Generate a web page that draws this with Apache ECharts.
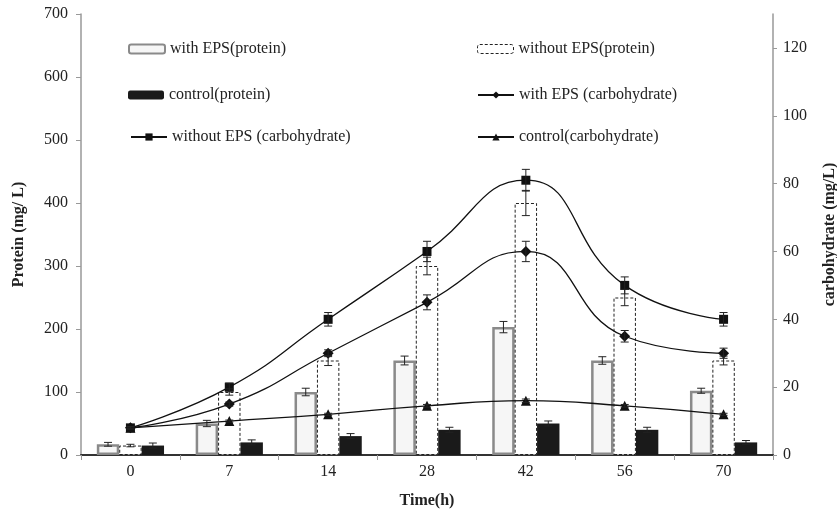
<!DOCTYPE html>
<html>
<head>
<meta charset="utf-8">
<script src="https://cdn.jsdelivr.net/npm/echarts@6/dist/echarts.min.js"></script>
<style>html,body{margin:0;padding:0;background:#fff}#c{width:837px;height:517px}</style>
</head>
<body>
<div id="c"></div>
<script>
const categories = ['0', '7', '14', '28', '42', '56', '70'];
const withEpsProtein = [17, 50, 100, 150, 203, 150, 102];
const withoutEpsProtein = [15, 100, 150, 300, 400, 250, 150];
const controlProtein = [15, 20, 30, 40, 50, 40, 20];
const withEpsProteinErr = [3, 5, 6, 7, 9, 6, 4];
const withoutEpsProteinErr = [2, 5, 8, 14, 20, 13, 7];
const controlProteinErr = [4, 4, 4, 4, 4, 4, 3];
const withEpsCarb = [8, 15, 30, 45, 60, 35, 30];
const withoutEpsCarb = [8, 20, 40, 60, 81, 50, 40];
const controlCarb = [8, 10, 12, 14.5, 16, 14.5, 12];
const withEpsCarbErr = [0.3, 0.6, 1, 2.2, 3, 1.7, 1.5];
const withoutEpsCarbErr = [0.4, 1.2, 2, 3, 3.2, 2.5, 2];
const controlCarbErr = [0.3, 0.3, 0.3, 0.4, 0.5, 0.4, 0.3];
const proteinTicks = [0, 100, 200, 300, 400, 500, 600, 700];
const carbTicks = [0, 20, 40, 60, 80, 100, 120];

const FONT = 'Liberation Serif';
const CAT_GAP = 0.32;

function errSeries(name, vals, errs, slot, yIdx, capHalf) {
  return {
    type: 'custom', name: name + '_err', yAxisIndex: yIdx, z: 10, silent: true,
    encode: { x: 0, y: 1 },
    data: vals.map((v, i) => [i, v, errs[i]]),
    renderItem: function (params, api) {
      const i = api.value(0), v = api.value(1), e = api.value(2);
      const band = api.size([1, 0])[0];
      const bw = band * (1 - CAT_GAP) / 3;
      const c = api.coord([i, v]);
      const x = c[0] + slot * bw;
      const yt = api.coord([i, v + e])[1];
      const yb = api.coord([i, v - e])[1];
      const st = { stroke: '#222', lineWidth: 1 };
      return { type: 'group', children: [
        { type: 'line', shape: { x1: x, y1: yt, x2: x, y2: yb }, style: st },
        { type: 'line', shape: { x1: x - capHalf, y1: yt, x2: x + capHalf, y2: yt }, style: st },
        { type: 'line', shape: { x1: x - capHalf, y1: yb, x2: x + capHalf, y2: yb }, style: st }
      ] };
    }
  };
}

const legendPos = [
  ['with EPS(protein)', 128, 41, { borderColor: '#8a8a8a', borderWidth: 2 }],
  ['without EPS(protein)', 477, 41, { borderColor: '#222', borderWidth: 1, borderType: [3, 2] }],
  ['control(protein)', 128, 87, {}],
  ['with EPS (carbohydrate)', 477, 87, {}],
  ['without EPS (carbohydrate)', 130, 129, {}],
  ['control(carbohydrate)', 477, 129, {}]
];

const chart = echarts.init(document.getElementById('c'));
chart.setOption({
  animation: false,
  backgroundColor: '#fff',
  textStyle: { fontFamily: FONT },
  legend: legendPos.map(p => ({
    data: [p[0]], left: p[1], top: p[2], padding: 0,
    itemWidth: 36, itemHeight: 9,
    itemStyle: p[3],
    textStyle: { fontFamily: FONT, fontSize: 16, color: '#222' }
  })),
  grid: { left: 81, right: 64, top: 14, bottom: 62, outerBoundsMode: 'none', containLabel: false },
  xAxis: [{
    type: 'category', data: categories, position: 'bottom',
    name: 'Time(h)', nameLocation: 'middle', nameGap: 38,
    nameTextStyle: { fontFamily: FONT, fontWeight: 'bold', fontSize: 16, color: '#222' },
    axisLine: { lineStyle: { color: '#999', width: 1.5 } },
    axisTick: { show: true, length: 5, lineStyle: { color: '#999' } },
    axisLabel: { margin: 9, fontFamily: FONT, fontSize: 16, color: '#222' }
  }, {
    type: 'category', data: categories, position: 'top',
    axisLine: { lineStyle: { color: '#333', width: 2 } },
    axisTick: { show: false }, axisLabel: { show: false }
  }],
  yAxis: [{
    type: 'value', min: 0, max: 700, interval: 100, position: 'left',
    name: 'Protein (mg/ L)', nameLocation: 'middle', nameGap: 54, nameRotate: 90,
    nameTextStyle: { fontFamily: FONT, fontWeight: 'bold', fontSize: 16, color: '#222' },
    splitLine: { show: false },
    axisLine: { show: true, lineStyle: { color: '#999', width: 1.5 } },
    axisTick: { show: true, length: 5, lineStyle: { color: '#999' } },
    axisLabel: { margin: 13, fontFamily: FONT, fontSize: 16, color: '#222', customValues: proteinTicks }
  }, {
    type: 'value', min: 0, max: 130, interval: 20, position: 'right',
    name: 'carbohydrate (mg/L)', nameLocation: 'middle', nameGap: 49, nameRotate: 90,
    nameTextStyle: { fontFamily: FONT, fontWeight: 'bold', fontSize: 16, color: '#222' },
    splitLine: { show: false },
    axisLine: { show: true, lineStyle: { color: '#999', width: 1.5 } },
    axisTick: { show: true, length: 4, lineStyle: { color: '#999' }, customValues: carbTicks },
    axisLabel: { margin: 10, fontFamily: FONT, fontSize: 16, color: '#222', customValues: carbTicks }
  }],
  series: [
    { type: 'bar', name: 'with EPS(protein)', data: withEpsProtein, barGap: '0%', barCategoryGap: '32%',
      itemStyle: { color: '#f6f6f6', borderColor: '#8a8a8a', borderWidth: 2.5 } },
    { type: 'bar', name: 'without EPS(protein)', data: withoutEpsProtein, barGap: '0%', barCategoryGap: '32%',
      itemStyle: { color: '#fff', borderColor: '#222', borderWidth: 1, borderType: [3, 2] } },
    { type: 'bar', name: 'control(protein)', data: controlProtein, barGap: '0%', barCategoryGap: '32%',
      itemStyle: { color: '#1a1a1a', borderColor: '#1a1a1a', borderWidth: 0 } },
    { type: 'line', name: 'with EPS (carbohydrate)', yAxisIndex: 1, data: withEpsCarb, smooth: true,
      symbol: 'diamond', symbolSize: 11, z: 5,
      lineStyle: { color: '#111', width: 1.3 }, itemStyle: { color: '#111' } },
    { type: 'line', name: 'without EPS (carbohydrate)', yAxisIndex: 1, data: withoutEpsCarb, smooth: true,
      symbol: 'rect', symbolSize: 9, z: 5,
      lineStyle: { color: '#111', width: 1.3 }, itemStyle: { color: '#111' } },
    { type: 'line', name: 'control(carbohydrate)', yAxisIndex: 1, data: controlCarb, smooth: true,
      symbol: 'triangle', symbolSize: 10, z: 5,
      lineStyle: { color: '#111', width: 1.3 }, itemStyle: { color: '#111' } },
    errSeries('a', withEpsProtein, withEpsProteinErr, -1, 0, 4),
    errSeries('b', withoutEpsProtein, withoutEpsProteinErr, 0, 0, 4),
    errSeries('c', controlProtein, controlProteinErr, 1, 0, 4),
    errSeries('d', withEpsCarb, withEpsCarbErr, 0, 1, 4),
    errSeries('e', withoutEpsCarb, withoutEpsCarbErr, 0, 1, 4),
    errSeries('f', controlCarb, controlCarbErr, 0, 1, 4)
  ]
});
</script>
</body>
</html>
